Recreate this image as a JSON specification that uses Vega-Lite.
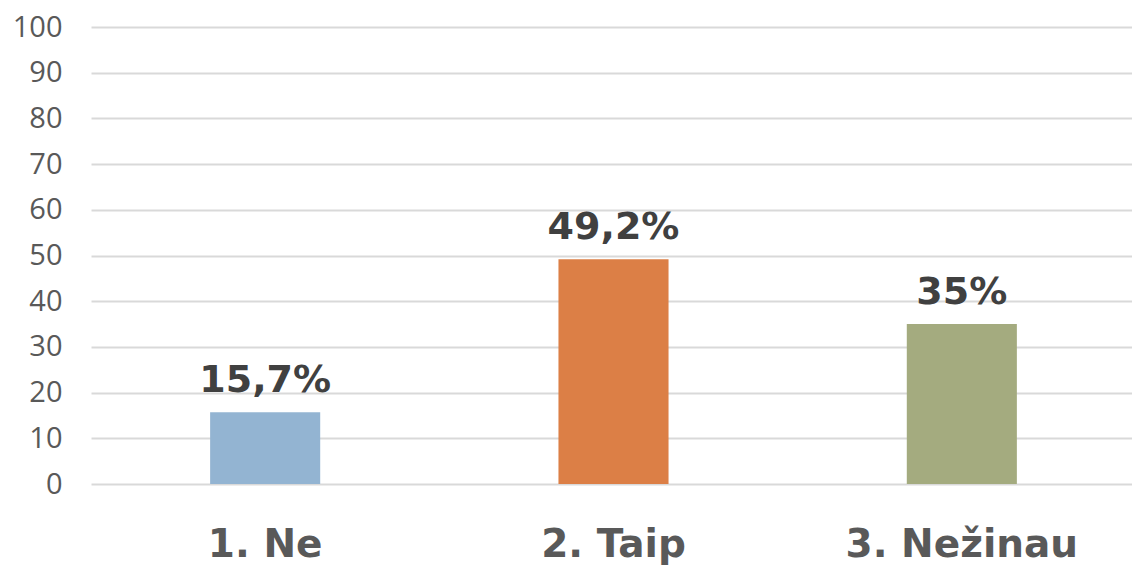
{
  "$schema": "https://vega.github.io/schema/vega-lite/v6.json",
  "autosize": "none",
  "width": 1045,
  "height": 457,
  "padding": {"left": 91, "top": 27, "right": 0, "bottom": 83},
  "background": "white",
  "data": {"values": [
    {"cat": "1. Ne", "value": 15.7, "label": "15,7%", "color": "#93B4D2"},
    {"cat": "2. Taip", "value": 49.2, "label": "49,2%", "color": "#DC7F46"},
    {"cat": "3. Nežinau", "value": 35, "label": "35%", "color": "#A4AB7F"}
  ]},
  "encoding": {
    "x": {"field": "cat", "type": "nominal", "sort": null, "title": null,
      "scale": {"paddingInner": 0.684, "paddingOuter": 0.342},
      "axis": {"domain": false, "ticks": false, "labelAngle": 0, "labelFont": "DejaVu Sans", "labelFontWeight": "bold", "labelFontSize": 39, "labelColor": "#595959", "labelPadding": 72, "labelBaseline": "alphabetic", "labelLimit": 0}},
    "y": {"field": "value", "type": "quantitative", "title": null,
      "scale": {"domain": [0, 100], "nice": false},
      "axis": {"values": [0,10,20,30,40,50,60,70,80,90,100], "domain": false, "ticks": false, "labelFont": "Open Sans", "labelFontSize": 29, "labelColor": "#595959", "labelPadding": 29, "gridColor": "#D9D9D9", "gridWidth": 2}}
  },
  "layer": [
    {"mark": {"type": "bar"}, "encoding": {"color": {"field": "color", "type": "nominal", "scale": null}}},
    {"mark": {"type": "text", "font": "DejaVu Sans", "fontWeight": "bold", "fontSize": 38, "color": "#404040", "baseline": "alphabetic", "dy": -20},
      "encoding": {"text": {"field": "label"}}}
  ],
  "config": {"view": {"stroke": null}}
}
